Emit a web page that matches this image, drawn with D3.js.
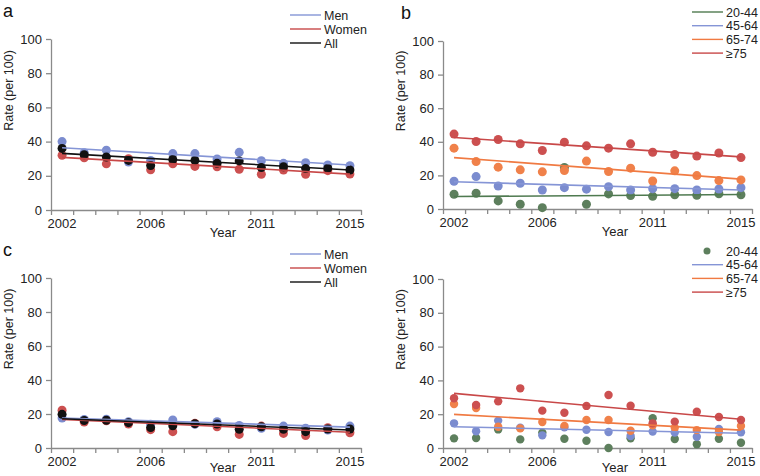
<!DOCTYPE html>
<html><head><meta charset="utf-8">
<script src="https://cdn.jsdelivr.net/npm/d3@7"></script>
<style>body{margin:0;background:#fff}svg{display:block;font-family:"Liberation Sans",Arial,sans-serif}</style>
</head><body><svg id="c" width="760" height="476"></svg>
<script>
const years = [2002,2003,2004,2005,2006,2007,2008,2009,2010,2011,2012,2013,2014,2015];
const yearLabels = [2002,2006,2011,2015];
const yTicks = [0,20,40,60,80,100];

// Panel a (sex)
const aMen   = [40,33.5,35,28,29,33,33,29.8,33.7,28.8,27.3,27.7,26.3,25.9];
const aWomen = [32,30.5,27,30,23.5,27,25.5,25.3,23.8,20.9,23.4,20.9,23,21];
const aAll   = [36,32.3,31,29,26,29.5,29,27.3,28.7,24.8,25.3,24.2,24.4,23.4];
const aTrendMen = [36.4,26.3], aTrendWomen = [30.8,21], aTrendAll = [33.1,23.4];

// Panel b (age)
const b2044 = [8.8,9.4,4.8,2.8,0.8,24.7,2.8,9,8,7.6,8.5,8.2,9.1,8.5];
const b4564 = [16.5,19.3,13.7,15.3,11.3,12.7,11.8,13.3,11.3,12.1,12.1,11.3,11.9,12.7];
const b6574 = [36.2,28.2,24.9,23.3,22.1,22.9,28.5,22.3,24.3,16.7,22.7,19.9,16.9,17.3];
const b75   = [44.6,40.2,41.4,38.8,34.8,39.8,37.6,36.2,38.8,33.8,32.4,31.5,33.3,30.6];
const bTrend2044 = [7.4,8.6], bTrend4564 = [16.2,11.3], bTrend6574 = [30.6,17.8], bTrend75 = [42.6,31];

// Panel c (sex)
const cMen   = [17.6,16.8,16.9,15.5,14,16.5,14,15.5,13.3,11.6,12.9,11.6,10.6,12.9];
const cWomen = [22.2,15.3,16,14.1,10.8,9.6,14.5,12.5,8,12.9,8.6,7.3,11.9,9];
const cAll   = [19.8,16.2,16.3,14.9,12,13.1,14.3,14.1,11,12.5,11,9.6,11.2,11.2];
const cTrendMen = [17.6,12.3], cTrendWomen = [16.8,9.3], cTrendAll = [17.2,10.6];

// Panel d (age)
const d2044 = [5.7,5.9,11,5.1,9.1,5.5,4.3,0,5.7,17.6,5.3,2.2,5.5,3.1];
const d4564 = [14.6,9.9,16.2,12,7.5,12.2,10.8,9.5,7.1,9.7,9.1,6.7,11.2,9.3];
const d6574 = [26,23.7,12.6,11.6,15.4,13,16.6,16.6,10.2,13.5,12,10.6,9.5,13];
const d75   = [29.4,25.4,27.6,35.3,22.1,20.9,24.9,31.4,25,14.6,15.6,21.5,18.3,16.6];
const dTrend4564 = [12.6,8.7], dTrend6574 = [19.9,10.6], dTrend75 = [32.3,17];

const BLUE="#7b8ccf", RED="#cc5050", BLACK="#111111", ORANGE="#f0814a", GREEN="#5d7f5d";
const BLUE_L="#8595d6", RED_L="#c84848", ORANGE_L="#f07a42", GREEN_L="#4f7a50";

const svg = d3.select("#c");

function panel(cfg){
  const g = svg.append("g");
  const xb = d3.scaleBand().domain(years).range(cfg.xr);
  const xl = d3.scaleLinear().domain([0, years.length]).range(cfg.xr);
  const y = d3.scaleLinear().domain([0,100]).range(cfg.yr);
  const axisCol = "#8a8a8a";
  const FS = 13;
  const gx = g.append("g").attr("transform",`translate(0,${cfg.yr[0]})`)
    .call(d3.axisBottom(xl).tickValues(d3.range(years.length+1)).tickFormat("").tickSize(5).tickSizeOuter(0));
  gx.selectAll("path,line").attr("stroke",axisCol).attr("stroke-width",1.3);
  const gx2 = g.append("g").attr("transform",`translate(0,${cfg.yr[0]})`)
    .call(d3.axisBottom(xb).tickValues(yearLabels).tickSize(0).tickPadding(9));
  gx2.select(".domain").remove();
  gx2.selectAll("text").attr("font-size",FS).attr("fill","#222").attr("font-family","Liberation Sans, Arial, sans-serif");
  const gy = g.append("g").attr("transform",`translate(${cfg.xr[0]},0)`)
    .call(d3.axisLeft(y).tickValues(yTicks).tickSize(5).tickSizeOuter(0).tickPadding(4));
  gy.selectAll("path,line").attr("stroke",axisCol).attr("stroke-width",1.3);
  gy.selectAll("text").attr("font-size",FS).attr("fill","#222").attr("font-family","Liberation Sans, Arial, sans-serif");
  g.append("text").attr("x",cfg.xr[0]+172).attr("y",cfg.yr[0]+cfg.yearDy).attr("text-anchor","middle")
    .attr("font-size",FS).attr("fill","#222").text("Year");
  g.append("text").attr("transform",`translate(${cfg.xr[0]-38},${(cfg.yr[0]+cfg.yr[1])/2 - 34}) rotate(-90)`)
    .attr("text-anchor","middle").attr("font-size",12.5).attr("fill","#222").text("Rate (per 100)");
  g.append("text").attr("x",cfg.letterX).attr("y",cfg.yr[1]-22).attr("font-size",18).attr("fill","#111").text(cfg.letter);
  const cx = d => xb(d) + xb.bandwidth()/2;
  cfg.series.forEach(s => {
    if(!s.vals) return;
    g.append("g").selectAll("circle").data(s.vals).join("circle")
      .attr("cx",(d,i)=>cx(years[i])).attr("cy",d=>y(d)).attr("r",cfg.r).attr("fill",s.pc);
  });
  cfg.series.forEach(s => {
    if(!s.trend) return;
    g.append("path").attr("d",d3.line()([[cx(years[0]),y(s.trend[0])],[cx(years[years.length-1]),y(s.trend[1])]]))
      .attr("stroke",s.lc).attr("stroke-width",1.6).attr("fill","none");
  });
  cfg.series.forEach((s,i) => {
    const ly = cfg.legY + i*cfg.legDy;
    if(s.legDot){
      g.append("circle").attr("cx",cfg.legX+15).attr("cy",ly).attr("r",3.5).attr("fill",s.pc);
    } else {
      g.append("line").attr("x1",cfg.legX).attr("x2",cfg.legX+31).attr("y1",ly).attr("y2",ly)
        .attr("stroke",s.lc).attr("stroke-width",1.4);
    }
    g.append("text").attr("x",cfg.legX+34).attr("y",ly).attr("dy","0.36em").attr("font-size",12.5).attr("fill","#222").text(s.name);
  });
}

panel({letter:"a",letterX:3,xr:[51,361],yr:[210,39],r:4.5,yearDy:27,legX:290,legY:15,legDy:14,series:[
  {name:"Men",vals:aMen,trend:aTrendMen,pc:BLUE,lc:BLUE_L},
  {name:"Women",vals:aWomen,trend:aTrendWomen,pc:RED,lc:RED_L},
  {name:"All",vals:aAll,trend:aTrendAll,pc:BLACK,lc:BLACK}]});
panel({letter:"b",letterX:401,xr:[443,752],yr:[209,41],r:4.5,yearDy:27,legX:692,legY:12,legDy:13.7,series:[
  {name:"20-44",vals:b2044,trend:bTrend2044,pc:GREEN,lc:GREEN_L},
  {name:"45-64",vals:b4564,trend:bTrend4564,pc:BLUE,lc:BLUE_L},
  {name:"65-74",vals:b6574,trend:bTrend6574,pc:ORANGE,lc:ORANGE_L},
  {name:"≥75",vals:b75,trend:bTrend75,pc:RED,lc:RED_L}]});
panel({letter:"c",letterX:3,xr:[51,361],yr:[448,278],r:4.5,yearDy:24,legX:290,legY:254,legDy:14,series:[
  {name:"Men",vals:cMen,trend:cTrendMen,pc:BLUE,lc:BLUE_L},
  {name:"Women",vals:cWomen,trend:cTrendWomen,pc:RED,lc:RED_L},
  {name:"All",vals:cAll,trend:cTrendAll,pc:BLACK,lc:BLACK}]});
panel({letter:"",letterX:401,xr:[443,752],yr:[448,279],r:4.2,yearDy:24,legX:692,legY:251,legDy:13.7,series:[
  {name:"20-44",vals:d2044,pc:GREEN,lc:GREEN_L,legDot:true},
  {name:"45-64",vals:d4564,trend:dTrend4564,pc:BLUE,lc:BLUE_L},
  {name:"65-74",vals:d6574,trend:dTrend6574,pc:ORANGE,lc:ORANGE_L},
  {name:"≥75",vals:d75,trend:dTrend75,pc:RED,lc:RED_L}]});
</script></body></html>
